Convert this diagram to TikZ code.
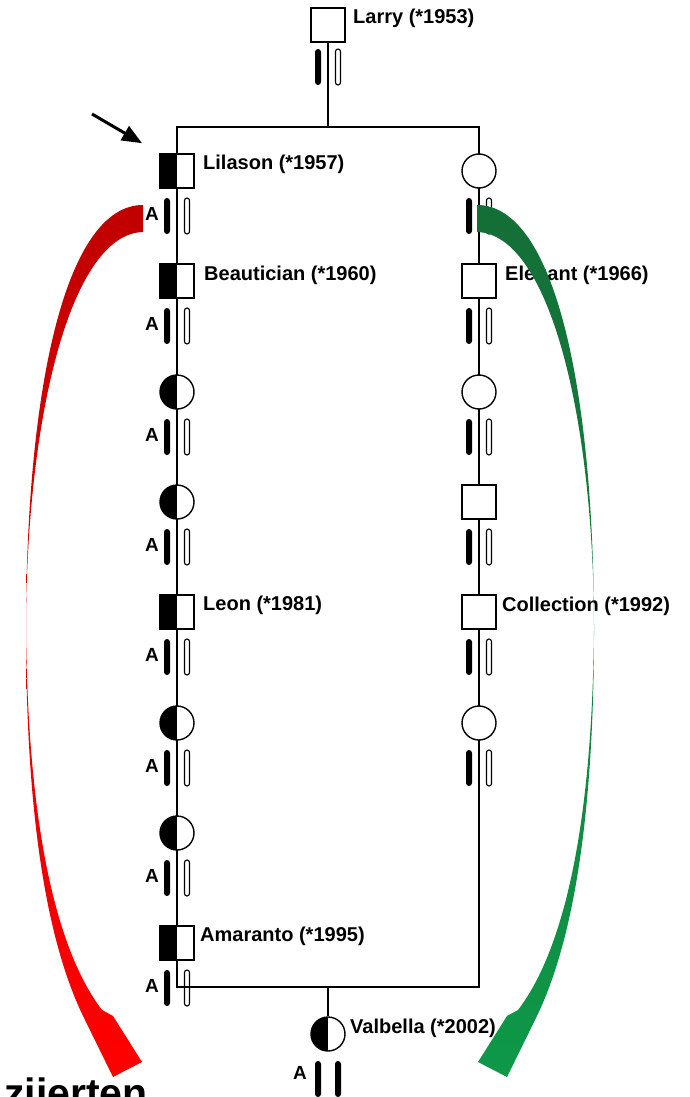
\documentclass[tikz,border=0pt]{standalone}
\usepackage{fontspec}
\setmainfont{Liberation Sans}
\usetikzlibrary{arrows.meta}
\definecolor{rdark}{RGB}{192,0,0}
\definecolor{rbright}{RGB}{255,0,0}
\definecolor{gdark}{RGB}{20,110,55}
\definecolor{gbright}{RGB}{14,152,72}
\begin{document}
\begin{tikzpicture}[x=1pt,y=-1pt,
  frame/.style={line width=1.5pt},
  sym/.style={draw, line width=1.4pt, fill=white, inner sep=0pt, minimum size=34pt},
  sq/.style={sym, rectangle},
  ci/.style={sym, circle},
  half/.style={path picture={\fill[black] (path picture bounding box.south west) rectangle (path picture bounding box.north);}},
  fbar/.style={rectangle, fill=black, minimum width=6pt, minimum height=36pt, rounded corners=3pt, inner sep=0pt},
  obar/.style={rectangle, draw, line width=1.1pt, fill=white, minimum width=5pt, minimum height=36pt, rounded corners=2.5pt, inner sep=0pt},
  lab/.style={anchor=west, inner sep=0pt, font=\bfseries\fontsize{20}{24}\selectfont},
  alab/.style={inner sep=0pt, font=\bfseries\fontsize{19}{21}\selectfont},
  bigtext/.style={anchor=base west, inner sep=0pt, font=\bfseries\fontsize{41}{45}\selectfont},
  pointer/.style={line width=3pt, -{Triangle[length=20pt,width=16pt]}, shorten >=20pt},
]
\useasboundingbox (0,0) rectangle (689,1097);
\clip (0,0) rectangle (689,1097);

% frame coordinates
\coordinate (tl) at (177,127);
\coordinate (tr) at (479,127);
\coordinate (bl) at (177,987);
\coordinate (br) at (479,987);
\coordinate (tm) at (328,127);
\coordinate (bm) at (328,987);
\draw[frame] (tl) -- (tr) -- (br) -- (bl) -- cycle;

% Larry
\node[sq] (larry) at (328,25) {};
\draw[frame] (larry.south) -- (tm);
\node[fbar] (larrya) at (318,67) {};
\node[obar] (larryb) at (338,67) {};
\node[lab] (larryl) at (353,18) {Larry (*1953)};

% left column
\foreach \i/\y/\s in {1/171/sq, 2/281/sq, 3/392/ci, 4/502/ci, 5/612/sq, 6/723/ci, 7/833/ci, 8/943/sq} {
  \node[\s, half] (L\i) at (177,\y) {};
  \node[fbar] (L\i a) at (167,\y+45) {};
  \node[obar] (L\i b) at (187,\y+45) {};
  \node[alab] (L\i A) at (152,\y+43) {A};
}
\draw[frame] (bl) -- (br);

% right column
\foreach \i/\y/\s in {1/171/ci, 2/281/sq, 3/392/ci, 4/502/sq, 5/612/sq, 6/723/ci} {
  \node[\s] (R\i) at (479,\y) {};
  \node[fbar] (R\i a) at (469,\y+45) {};
  \node[obar] (R\i b) at (489,\y+45) {};
}

% Valbella
\node[ci, half] (val) at (328,1034) {};
\draw[frame] (bm) -- (val.north);
\node[fbar] (vala) at (318,1079) {};
\node[fbar] (valb) at (338,1079) {};
\node[alab] (valA) at (300,1073) {A};

% labels
\node[lab] (lilL) at (203,164) {Lilason (*1957)};
\node[lab] (beaL) at (204,275) {Beautician (*1960)};
\node[lab] (leoL) at (203,605) {Leon (*1981)};
\node[lab] (amaL) at (200,936) {Amaranto (*1995)};
\node[lab] (eleL) at (505,275) {Elegant (*1966)};
\node[lab] (colL) at (502,606) {Collection (*1992)};
\node[lab] (valL) at (350,1028) {Valbella (*2002)};

% pointer arrow
\coordinate (arrS) at (92,114);
\draw[pointer] (arrS) -- (L1.north west);

% red curved arrow
\shade[top color=rdark, bottom color=rbright]
  (143,205) .. controls (65,205) and (26,390) .. (26,630)
  .. controls (26,850) and (55,960) .. (85,1020)
  -- (113,1077) -- (142,1062) -- (113,1016) -- (102,1010)
  .. controls (60,955) and (28,840) .. (26,630)
  .. controls (26,420) and (70,234) .. (143,232) -- cycle;

% green curved arrow
\shade[top color=gdark, bottom color=gbright]
  (477,205) .. controls (555,205) and (594,390) .. (594,630)
  .. controls (594,850) and (565,960) .. (535,1020)
  -- (507,1077) -- (478,1062) -- (507,1016) -- (518,1010)
  .. controls (560,955) and (592,840) .. (594,630)
  .. controls (594,420) and (550,234) .. (477,232) -- cycle;

% cut-off text at the bottom
\node[bigtext] (zi) at (4,1107) {ziierten};
\end{tikzpicture}
\end{document}
